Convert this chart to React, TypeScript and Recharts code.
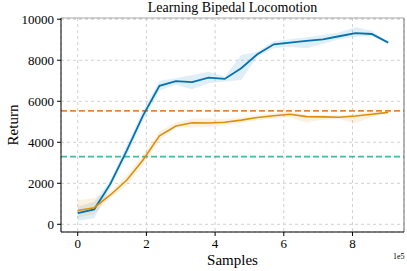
import {
	Area,
	CartesianGrid,
	ComposedChart,
	Line,
	ReferenceLine,
	XAxis,
	YAxis,
} from "recharts";

// samples, in units of 1e5
const samples = [
	0, 0.48, 0.95, 1.43, 1.9, 2.38, 2.86, 3.33, 3.81, 4.28, 4.76, 5.23, 5.71,
	6.18, 6.66, 7.14, 7.61, 8.09, 8.56, 9.04,
];

const blueMean = [
	540, 730, 1970, 3600, 5300, 6750, 6980, 6930, 7150, 7090, 7610, 8290, 8780,
	8860, 8940, 9020, 9170, 9320, 9280, 8860,
];
const blueLow = [
	170, 290, 1800, 3350, 5050, 6520, 6800, 6590, 6880, 6960, 7040, 8180, 8590,
	8660, 8590, 8800, 9020, 9150, 9190, 8830,
];
const blueHigh = [
	860, 1100, 2150, 3850, 5550, 7000, 7120, 7280, 7440, 7200, 8260, 8420, 8940,
	9020, 9120, 9230, 9350, 9610, 9440, 8890,
];

const orangeMean = [
	670, 810, 1430, 2160, 3140, 4310, 4790, 4950, 4940, 4980, 5080, 5210, 5290,
	5370, 5250, 5240, 5220, 5280, 5370, 5460,
];
const orangeLow = [
	330, 500, 1270, 1910, 2890, 4110, 4710, 4720, 4760, 4840, 4950, 5080, 5170,
	5220, 4960, 5100, 5120, 4930, 5250, 5420,
];
const orangeHigh = [
	1170, 1270, 1590, 2400, 3380, 4520, 4960, 5150, 5170, 5130, 5220, 5330, 5420,
	5500, 5330, 5350, 5320, 5380, 5480, 5500,
];

const orangeBaseline = 5530;
const greenBaseline = 3300;

const xTicks = [0, 2, 4, 6, 8];
const yTicks = [0, 2000, 4000, 6000, 8000, 10000];

const data = samples.map((s, i) => ({
	s,
	blue: blueMean[i],
	blueBand: [blueLow[i], blueHigh[i]],
	orange: orangeMean[i],
	orangeBand: [orangeLow[i], orangeHigh[i]],
}));

const font = "'Liberation Serif', 'DejaVu Serif', serif";
const tick = { fontSize: 13, fill: "#000", fontFamily: font };

export default function App() {
	return (
		<div
			style={{
				position: "absolute",
				left: 0,
				top: 0,
				width: 407,
				height: 271,
				background: "#fff",
				fontFamily: font,
			}}
		>
			<div
				style={{
					position: "absolute",
					left: 61,
					width: 343,
					top: 0,
					textAlign: "center",
					fontSize: 14,
					lineHeight: "16px",
				}}
			>
				Learning Bipedal Locomotion
			</div>
			<div
				style={{
					position: "absolute",
					left: 393,
					top: 252,
					fontSize: 8,
				}}
			>
				1e5
			</div>
			<ComposedChart
				width={407}
				height={271}
				data={data}
				margin={{ top: 18, right: 3, bottom: 0, left: 0 }}
			>
				<CartesianGrid stroke="#d0d0d0" strokeDasharray="3 3" />
				<XAxis
					dataKey="s"
					type="number"
					domain={[-0.487, 9.5]}
					ticks={xTicks}
					allowDataOverflow
					height={39}
					tick={tick}
					tickSize={4}
					tickMargin={3}
					stroke="#000"
					label={{
						value: "Samples",
						position: "insideBottom",
						offset: 6,
						style: { fontSize: 15, fill: "#000", fontFamily: font },
					}}
				/>
				<YAxis
					type="number"
					domain={[-375, 10060]}
					ticks={yTicks}
					allowDataOverflow
					width={61}
					tick={tick}
					tickSize={4}
					tickMargin={3}
					stroke="#000"
					label={{
						value: "Return",
						angle: -90,
						position: "insideLeft",
						offset: 13,
						style: {
							fontSize: 15,
							fill: "#000",
							fontFamily: font,
							textAnchor: "middle",
						},
					}}
				/>
				<ReferenceLine x={9.5} stroke="#888" strokeWidth={1.2} />
				<ReferenceLine y={10060} stroke="#aaa" strokeWidth={1} />
				<Area
					dataKey="blueBand"
					stroke="none"
					fill="#0173b2"
					fillOpacity={0.12}
					isAnimationActive={false}
				/>
				<Area
					dataKey="orangeBand"
					stroke="none"
					fill="#de8f05"
					fillOpacity={0.12}
					isAnimationActive={false}
				/>
				<ReferenceLine
					y={orangeBaseline}
					stroke="#d55e00"
					strokeOpacity={0.75}
					strokeWidth={1.6}
					strokeDasharray="6 3"
				/>
				<ReferenceLine
					y={greenBaseline}
					stroke="#029e73"
					strokeOpacity={0.72}
					strokeWidth={1.6}
					strokeDasharray="6 3"
				/>
				<Line
					dataKey="blue"
					stroke="#0173b2"
					strokeWidth={1.8}
					dot={false}
					isAnimationActive={false}
				/>
				<Line
					dataKey="orange"
					stroke="#de8f05"
					strokeWidth={1.6}
					dot={false}
					isAnimationActive={false}
				/>
			</ComposedChart>
		</div>
	);
}
